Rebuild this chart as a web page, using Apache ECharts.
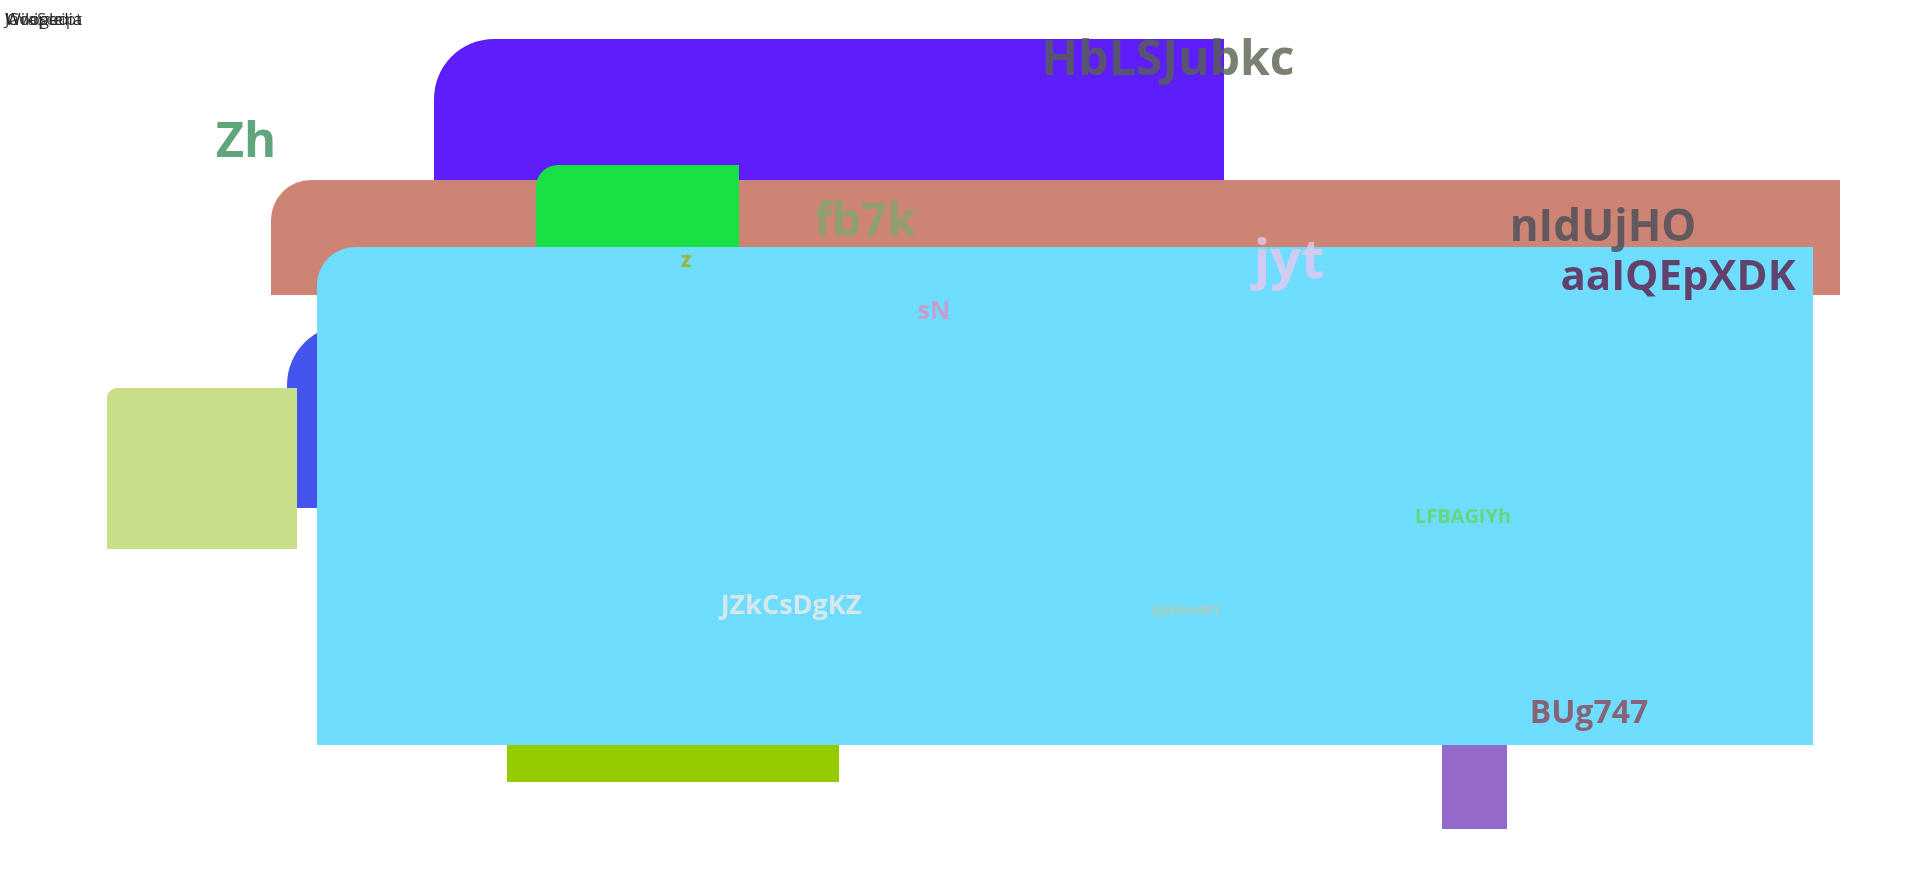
<!DOCTYPE html>
<html>
<head>
<meta charset="utf-8">
<script src="https://cdn.jsdelivr.net/npm/echarts@6/dist/echarts.min.js"></script>
<style>html,body{margin:0;padding:0;background:#fff}#c{width:1920px;height:870px}</style>
</head>
<body>
<div id="c"></div>
<script>
// boxes: x0, y0, x1, y1 (pixel-like value space), drawn back to front
const boxNames = ['a', 'b', 'c', 'd', 'e', 'f', 'g', 'h']
const boxX0 = [434, 271, 536, 287, 107, 507, 1442, 317]
const boxY0 = [39, 180, 165, 325, 388, 600, 600, 247]
const boxX1 = [1224, 1840, 739, 900, 297, 839, 1507, 1813]
const boxY1 = [290, 295, 290, 508, 549, 782, 829, 745]
const boxColors = ['#5E1EFC', '#CD8475', '#18E045', '#4455EE', '#C6DF88', '#95CC00', '#936AC9', '#6FDDFE']
const boxRadius = [60, 40, 22, 60, 10, 0, 0, 38]

// text labels
const labelTexts = ['HbLSJubkc', 'Zh', 'fb7k', 'nIdUjHO', 'jyt', 'aaIQEpXDK', 'z', 'sN', 'LFBAGIYh', 'JZkCsDgKZ', 'zjWbroWY', 'BUg747']
const labelX = [1168, 246, 865, 1603, 1289, 1678, 686, 934, 1463, 791, 1186, 1589]
const labelY = [61, 143, 223, 228, 263, 278, 261, 312, 517, 606, 611, 714]
const labelSizes = [48, 49, 46, 44, 54, 42, 22, 25, 20, 27, 14, 32]
const labelColors = ['#58614F', '#3A8F5C', '#7FA86B', '#4A4E5A', '#E6C8F0', '#5E1B48', '#A7A800', '#D98FC0', '#62D55B', '#F0EBE7', '#B8CCB0', '#904452']

const chart = echarts.init(document.getElementById('c'))

const boxData = boxNames.map((n, i) => ({
  name: n,
  value: [boxX0[i], boxY0[i], boxX1[i], boxY1[i]],
  itemStyle: { color: boxColors[i] },
  r: boxRadius[i]
}))

const labelData = labelTexts.map((t, i) => ({
  name: t,
  value: [labelX[i], labelY[i]],
  label: { fontSize: labelSizes[i], color: labelColors[i] }
}))

chart.setOption({
  animation: false,
  title: [
    { text: 'JavaScript', left: 0, top: 7, textStyle: { fontSize: 17, fontWeight: 'normal', color: '#444', fontFamily: 'Open Sans' } },
    { text: 'Wikipedia', left: 0, top: 7, textStyle: { fontSize: 17, fontWeight: 'normal', color: '#222', fontFamily: 'Open Sans' } },
    { text: 'Google', left: 2, top: 7, textStyle: { fontSize: 17, fontWeight: 'normal', color: '#333', fontFamily: 'Open Sans' } }
  ],
  grid: { left: 0, right: 0, top: 0, bottom: 0 },
  xAxis: { type: 'value', min: 0, max: 1920, show: false },
  yAxis: { type: 'value', min: 0, max: 870, inverse: true, show: false },
  series: [
    {
      type: 'custom',
      data: boxData,
      renderItem: (params, api) => {
        const p0 = api.coord([api.value(0), api.value(1)])
        const p1 = api.coord([api.value(2), api.value(3)])
        const r = boxData[params.dataIndex].r
        return {
          type: 'rect',
          shape: { x: p0[0], y: p0[1], width: p1[0] - p0[0], height: p1[1] - p0[1], r: [r, 0, 0, 0] },
          style: { fill: boxColors[params.dataIndex] }
        }
      },
      encode: { x: [0, 2], y: [1, 3] }
    },
    {
      type: 'scatter',
      symbolSize: 0,
      data: labelData,
      z: 5,
      label: {
        show: true,
        position: 'inside',
        formatter: '{b}',
        fontWeight: 'bold',
        fontFamily: 'Open Sans'
      }
    }
  ]
})
</script>
</body>
</html>
